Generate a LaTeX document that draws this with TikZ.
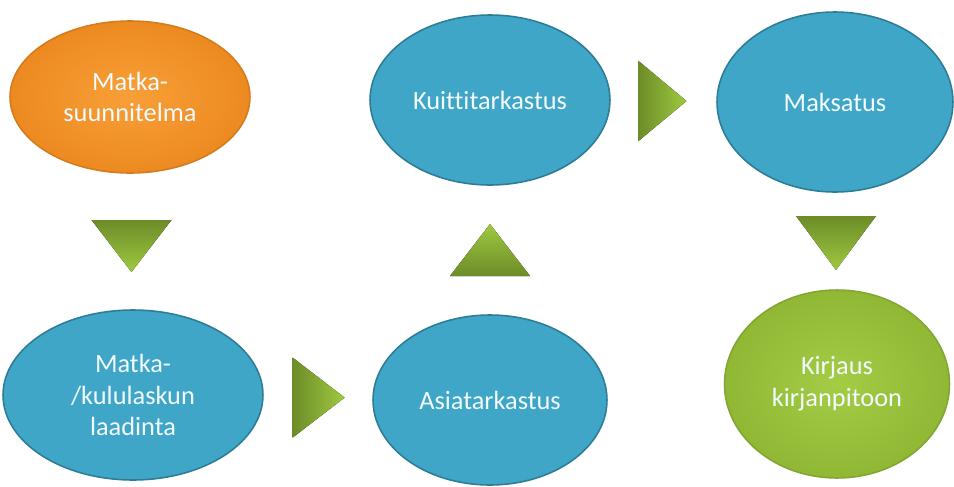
\documentclass[tikz,border=0pt]{standalone}
\usepackage{fontspec}
\setmainfont{Carlito}[Ligatures={NoCommon}]
\usepackage{xcolor}
\usepackage{tikz}
\usetikzlibrary{shapes.geometric}
\usetikzlibrary{calc}

\definecolor{stepblue}{HTML}{40A6C8}
\definecolor{stepblueline}{HTML}{2D7D96}
\definecolor{startorange}{HTML}{F99F38}
\definecolor{startorangeedge}{HTML}{EC8A20}
\definecolor{endgreen}{HTML}{A5CC45}
\definecolor{endgreenedge}{HTML}{90B835}
\definecolor{tridark}{HTML}{6C8C28}
\definecolor{trilight}{HTML}{9FC940}

\begin{document}
\begin{tikzpicture}[x=0.02cm, y=-0.02cm,
	every node/.style={ellipse, inner sep=0pt, align=center, line width=0.9pt,
		font=\fontsize{15}{18}\selectfont, text=white!95!cyan},
	stepnode/.style={draw=stepblueline, fill=stepblue},
	startnode/.style={draw=startorangeedge!90!black, inner color=startorange, outer color=startorangeedge},
	endnode/.style={draw=endgreenedge!90!black, inner color=endgreen, outer color=endgreenedge}]
	\useasboundingbox (0,0) rectangle (954,487);
	\node[startnode, minimum width=4.8cm, minimum height=3.04cm](plan) at (130,97){Matka-\\suunnitelma};
	\node[stepnode, minimum width=5.2cm, minimum height=3.4cm](claim) at (133,395){Matka-\\/kululaskun\\laadinta};
	\node[stepnode, minimum width=4.68cm, minimum height=3.4cm](review) at (490,400){Asiatarkastus};
	\node[stepnode, minimum width=4.8cm, minimum height=3.4cm](receipts) at (490,100){Kuittitarkastus};
	\node[stepnode, minimum width=4.72cm, minimum height=3.6cm](payment) at (835,102){Maksatus};
	\node[endnode, minimum width=4.5cm, minimum height=3.76cm](booking) at (837,384){Kirjaus\\kirjanpitoon};
	\fill[top color=tridark, bottom color=trilight] ($(plan)!0.5!(claim)$) ++(-40,-26) -- ++(80,0) -- ++(-40,52) -- cycle;
	\fill[left color=tridark, right color=trilight] ($(claim)!0.52!(review)$) ++(-26,-40) -- ++(52,40) -- ++(-52,40) -- cycle;
	\fill[top color=trilight, bottom color=tridark] ($(review)!0.5!(receipts)$) ++(-40,26) -- ++(80,0) -- ++(-40,-52) -- cycle;
	\fill[left color=tridark, right color=trilight] ($(receipts)!0.5!(payment)$) ++(-24,-40) -- ++(48,40) -- ++(-48,40) -- cycle;
	\fill[top color=tridark, bottom color=trilight] ($(payment)!0.5!(booking)$) ++(-40,-27) -- ++(80,0) -- ++(-40,54) -- cycle;
\end{tikzpicture}
\end{document}
